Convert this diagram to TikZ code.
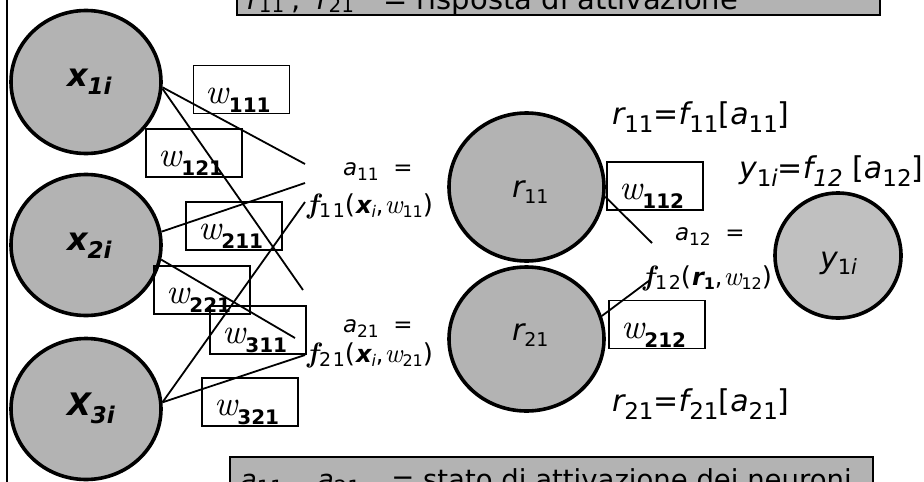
\documentclass[tikz,border=0pt]{standalone}
\usepackage{fontspec}
\usepackage{graphicx}
\usetikzlibrary{shapes.geometric}
\setmainfont{DejaVu Sans}
\newfontfamily\lmr{lmroman10}[Extension=.otf,UprightFont=*-regular,ItalicFont=*-italic,BoldFont=*-bold,BoldItalicFont=*-bolditalic]
\definecolor{cgray}{RGB}{179,179,179}
\definecolor{ygray}{RGB}{192,192,192}
\newcommand{\sz}[1]{\fontsize{#1}{#1}\selectfont}
\newcommand{\dn}[3]{\raisebox{-#1pt}{\sz{#2}#3}}
\newcommand{\wl}[1]{{\lmr\itshape\sz{35}w}\dn{9}{20}{\bfseries #1}}
\newcommand{\fl}[4]{{\lmr\bfseries\itshape\sz{28}f}\kern1pt\dn{4}{19}{#1}\sz{26}(\kern1pt{\sz{24}\bfseries\itshape #2}\dn{4}{16}{#3}{\sz{24},}\kern1pt{\lmr\itshape\sz{27}w}\dn{4}{16}{#4})}
\begin{document}
\begin{tikzpicture}[x=1pt,y=-1pt,
  neuron/.style={ellipse,draw,line width=3.6pt,fill=cgray,inner sep=0pt},
  wbox/.style={draw,line width=1.8pt,inner sep=0pt,minimum width=96pt,minimum height=48pt},
  txt/.style={anchor=base west,inner sep=0pt,outer sep=0pt},
  conn/.style={line width=1.8pt},
  banner/.style={draw,line width=2.5pt,fill=cgray}]
\useasboundingbox (0,0) rectangle (924,482);
\clip (0,0) rectangle (924,482);
\fill[white] (0,0) rectangle (924,482);

% banners
\draw[banner] (237,-40) rectangle (880,15);
\node[txt] (top) at (247,9) {\sz{29}\itshape r\dn{3}{20}{\upshape 11}\upshape\hspace{7pt}, \hspace{7pt}\itshape r\dn{3}{20}{\upshape 21}\upshape\hspace{20pt} = risposta di attivazione};
\draw[banner] (230,457) rectangle (873,520);
\node[txt] (bot) at (240,489) {\sz{27.5}\itshape a\dn{6}{21}{\upshape 11}\upshape\hspace{8pt}, \hspace{8pt}\itshape a\dn{6}{21}{\upshape 21}\upshape\hspace{22pt} = stato di attivazione dei neuroni};

% left rule
\draw[line width=2.5pt] (7,-5) -- (7,490);

% neurons
\node[neuron,minimum width=150pt,minimum height=143pt] (x1) at (86,82) {};
\node[neuron,minimum width=150pt,minimum height=141pt] (x2) at (86,245) {};
\node[neuron,minimum width=150pt,minimum height=141pt] (x3) at (86,409) {};
\node[neuron,minimum width=155pt,minimum height=148pt] (r11) at (526.5,187) {};
\node[neuron,minimum width=155pt,minimum height=144pt] (r21) at (526.5,339) {};
\node[neuron,fill=ygray,minimum width=126pt,minimum height=125pt] (y1) at (838,255.5) {};

\node[txt] (x1l) at (67,86) {\sz{32}\bfseries\itshape x\dn{8}{23}{1i}};
\node[txt] (x2l) at (67,250) {\sz{32}\bfseries\itshape x\dn{8}{23}{2i}};
\node[txt] (x3l) at (67,415) {\sz{31}\bfseries\itshape X\dn{8}{23}{3i}};
\node[txt] (r11l) at (512,197) {\sz{30}\itshape r\dn{6}{19}{\upshape 11}};
\node[txt] (r21l) at (512,340) {\sz{30}\itshape r\dn{6}{19}{\upshape 21}};
\node[txt] (y1l) at (820,268) {\sz{30}\itshape y\dn{6}{21}{\upshape 1\itshape i}};

% weight boxes
\node[wbox] (b111) at (241.5,89.5) {};
\node[wbox] (b121) at (194,153) {};
\node[wbox] (b211) at (234,226) {};
\node[wbox] (b221) at (202,290) {};
\node[wbox] (b311) at (258,330) {};
\node[wbox] (b321) at (250,402) {};
\node[wbox] (b112) at (655,186) {};
\node[wbox] (b212) at (657,324.5) {};
\foreach \b in {111,121,211,221,311,321,112,212}
  \node[txt] (l\b) at ([xshift=13pt,yshift=11pt]b\b.south west) {\wl{\b}};

% activation labels
\node[txt] (a11) at (343,175) {\sz{23}\itshape a\dn{5}{17}{\upshape 11}\upshape\ \ =};
\node[txt] (f11) at (307,213) {\fl{1\kern1.5pt1}{x}{\itshape i}{11}};
\node[txt] (a21) at (343,332) {\sz{23}\itshape a\dn{5}{17}{\upshape 21}\upshape\ \ =};
\node[txt] (f21) at (307,362) {\fl{2\kern1.5pt1}{x}{\itshape i}{21}};
\node[txt] (a12) at (675,240) {\sz{23}\itshape a\dn{5}{17}{\upshape 12}\upshape\ \ =};
\node[txt] (f12) at (643,285) {\fl{1\kern1.5pt2}{r}{\bfseries 1}{12}};

% output equations
\node[txt] (e11) at (612,124) {\sz{30}\itshape r\dn{8}{23}{\upshape 11}\upshape=\itshape f\dn{8}{23}{\upshape 11}\upshape[\itshape a\dn{8}{23}{\upshape 11}\upshape]};
\node[txt] (e21) at (612,411) {\sz{30}\itshape r\dn{8}{23}{\upshape 21}\upshape=\itshape f\dn{8}{23}{\upshape 21}\upshape[\itshape a\dn{8}{23}{\upshape 21}\upshape]};
\node[txt] (ey) at (739,178) {\sz{30}\itshape y\dn{8}{23}{\upshape 1\itshape i}\upshape=\itshape f\dn{8}{23}{12}\upshape\ [\itshape a\dn{8}{23}{\upshape 12}\upshape]};

% connector free ends
\coordinate (A) at (305,164);
\coordinate (B) at (303,290);
\coordinate (C) at (305,183);
\coordinate (D) at (295,338);
\coordinate (E) at (305,202);
\coordinate (F) at (305,355);
\coordinate (G) at (652,243);
\coordinate (H) at (650,280);

\draw[conn] (x1.-4) -- (A);
\draw[conn] (x1.-5) -- (B);
\draw[conn] (x2.10) -- (C);
\draw[conn] (x2.-11) -- (D);
\draw[conn] (x3.5) -- (E);
\draw[conn] (x3.5) -- (F);
\draw[conn] (r11.-7) -- (G);
\draw[conn] (r21.17) -- (H);
\end{tikzpicture}
\end{document}
